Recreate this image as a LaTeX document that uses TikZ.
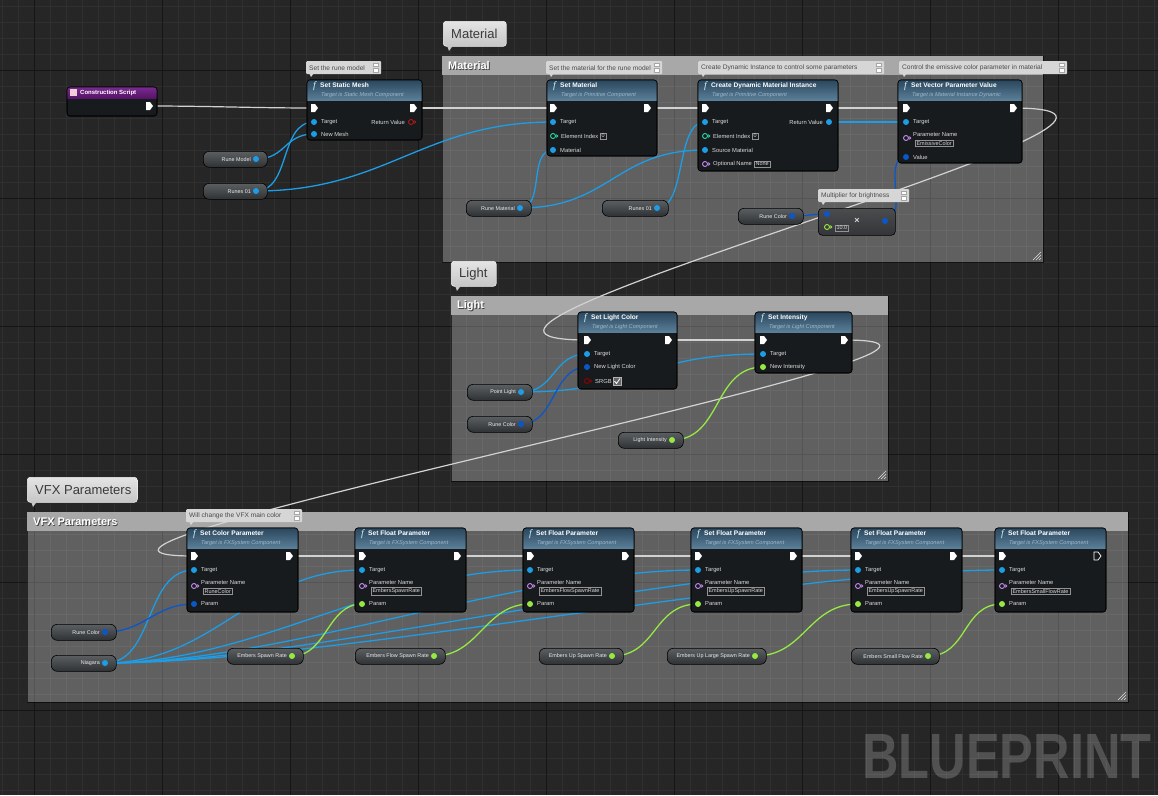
\documentclass[tikz,border=0pt]{standalone}
\usepackage{fontspec}
\setmainfont{Liberation Sans}
\newfontfamily\bpserif{Liberation Serif}
\usetikzlibrary{calc}
\definecolor{bg}{HTML}{262626}
\definecolor{gridminor}{HTML}{303030}
\definecolor{gridmajor}{HTML}{151515}
\definecolor{objpin}{HTML}{1C9DE6}
\definecolor{structpin}{HTML}{0B57C9}
\definecolor{floatpin}{HTML}{96E843}
\definecolor{namepin}{HTML}{C58BF0}
\definecolor{intpin}{HTML}{2ED6A0}
\definecolor{boolpin}{HTML}{8E0000}
\definecolor{retpin}{HTML}{B01818}
\definecolor{execw}{HTML}{D2D2D2}
\definecolor{nodebg}{HTML}{181B1D}
\definecolor{hdtop}{HTML}{2A465C}
\definecolor{hdbot}{HTML}{5A7F98}
\definecolor{subtxt}{HTML}{9DB8CC}
\definecolor{pinlabel}{HTML}{DADADA}
\definecolor{cmtbar}{HTML}{A8A8A8}
\definecolor{bubble}{HTML}{D6D6D6}
\definecolor{bubbletxt}{HTML}{4A4A4A}
\definecolor{bigtop}{HTML}{E4E4E4}
\definecolor{bigbot}{HTML}{C6C6C6}
\definecolor{bigtxtc}{HTML}{3A3A3A}
\definecolor{pilltop}{HTML}{5B5F62}
\definecolor{pillbot}{HTML}{2F3234}
\definecolor{purpletop}{HTML}{7A2A8E}
\definecolor{purplebot}{HTML}{561468}
\definecolor{multop}{HTML}{4A4C4E}
\definecolor{mulbot}{HTML}{333538}
\tikzset{
  execpin/.pic={\fill[white] (-3,-4) -- (1,-4) -- (4,0) -- (1,4) -- (-3,4) -- cycle;},
  execpinhollow/.pic={\draw[white, line width=0.7pt, line join=round] (-3,-4) -- (1,-4) -- (4,0) -- (1,4) -- (-3,4) -- cycle;},
  dotpin/.pic={\fill[#1] (0,0) circle (3pt);},
  hollowpin/.pic={\draw[#1, line width=0.9pt] (0,0) circle (2.5pt); \fill[#1] (3.3,-2) -- (5.3,0) -- (3.3,2) -- cycle;},
  fnbody/.style={anchor=north west, inner sep=0pt, outer sep=0pt, fill=nodebg, draw=black, line width=0.6pt, rounded corners=3pt},
  pinlbl/.style={anchor=west, inner sep=0pt, text=pinlabel, font=\fontsize{5.8}{6.5}\selectfont},
  valbox/.style={anchor=west, inner sep=1.3pt, draw=gray!85, line width=0.5pt, text=pinlabel, font=\fontsize{5.5}{6}\selectfont},
  fntitle/.style={anchor=west, inner sep=0pt, text=white, font=\fontsize{6.6}{7}\selectfont\bfseries},
  fnsub/.style={anchor=west, inner sep=0pt, text=subtxt, font=\fontsize{5.6}{6}\selectfont\itshape},
  fnsym/.style={anchor=center, inner sep=0pt, text=white!80!cyan, font=\bpserif\fontsize{10}{10}\selectfont\itshape},
  pill/.style={anchor=north west, minimum height=16pt, inner sep=0pt, rounded corners=6pt, top color=pilltop, bottom color=pillbot, draw=black, line width=0.6pt},
  pilltxt/.style={anchor=east, inner sep=0pt, text=white!92!black, font=\fontsize{5.4}{6}\selectfont},
  note/.style={anchor=north west, minimum height=13pt, inner sep=0pt, fill=bubble, rounded corners=1pt},
  notetxt/.style={anchor=west, inner sep=0pt, text=bubbletxt, font=\fontsize{6.6}{7}\selectfont},
  bigbub/.style={anchor=north west, minimum height=25pt, inner sep=0pt, rounded corners=3pt, top color=bigtop, bottom color=bigbot, draw=white!90!gray, line width=0.6pt},
  bigtxt/.style={anchor=west, inner sep=0pt, text=bigtxtc, font=\fontsize{13}{14}\selectfont},
  cmtbox/.style={anchor=north west, inner sep=0pt, fill=white, fill opacity=0.27, draw=black, draw opacity=0.6, line width=0.8pt},
  cmttitle/.style={anchor=west, inner sep=0pt, text=white, font=\fontsize{11}{12}\selectfont\bfseries},
  wire/.style={line width=1.3pt, line cap=round},
  objw/.style={wire, draw=objpin},
  strw/.style={wire, draw=structpin},
  fltw/.style={wire, draw=floatpin},
  exw/.style={wire, draw=execw, line width=1.2pt}
}
% function node: name, x, y, w, h, title, subtitle
\newcommand{\bpfn}[7]{%
  \node[fnbody, minimum width=#4pt, minimum height=#5pt] (#1) at (#2,#3) {};
  \begin{scope}
    \clip[rounded corners=3pt] (#2,#3) rectangle (#2+#4,#3+#5);
    \shade[top color=hdtop, bottom color=hdbot] (#2,#3) rectangle (#2+#4,#3+20);
  \end{scope}
  \draw[black, line width=0.6pt, rounded corners=3pt] (#2,#3) rectangle (#2+#4,#3+#5);
  \node[fnsym] (#1-f) at (#2+7.5,#3+6) {f};
  \node[fntitle] (#1-t) at (#2+13,#3+5.5) {#6};
  \node[fnsub] (#1-s) at (#2+14,#3+15) {#7};
}
\newcommand{\pinhol}[5]{\coordinate (#1) at (#2,#3); \pic at (#1) {hollowpin=#4}; \node[pinlbl] (#1-l) at (#2+8,#3) {#5};}
% parameter name pin with box: name, x, y, value
\newcommand{\pinpname}[4]{\coordinate (#1) at (#2,#3); \pic at (#1) {hollowpin=namepin};
  \node[pinlbl] (#1-l) at (#2+7,#3-3.5) {Parameter Name};
  \node[valbox] (#1-v) at (#2+9,#3+5.2) {#4};}
% pill variable: name, x, y, w, label, color
\newcommand{\bppill}[6]{%
  \node[pill, minimum width=#4pt] (#1) at (#2,#3) {};
  \coordinate (#1p) at (#2+#4-11,#3+8);
  \node[pilltxt] (#1-l) at (#2+#4-16,#3+8.3) {#5};
  \pic at (#1p) {dotpin=#6};
}
% small note: name, x, y, w, text
\newcommand{\bpnote}[5]{%
  \node[note, minimum width=#4pt] (#1) at (#2,#3) {};
  \fill[bubble] (#2+3,#3+12) -- (#2+8,#3+12) -- (#2+5,#3+16) -- cycle;
  \node[notetxt] (#1-l) at (#2+3,#3+6.8) {#5};
  \draw[gray!70, fill=white, line width=0.3pt] (#2+#4-8,#3+2) rectangle (#2+#4-3,#3+5.5);
  \draw[gray!70, fill=white, line width=0.3pt] (#2+#4-8,#3+7.5) rectangle (#2+#4-3,#3+11);
}
% big bubble: name, x, y, w, text
\newcommand{\bpbig}[5]{%
  \node[bigbub, minimum width=#4pt] (#1) at (#2,#3) {};
  \fill[bigbot] (#2+4,#3+24.5) -- (#2+10,#3+24.5) -- (#2+6,#3+30) -- cycle;
  \node[bigtxt] (#1-l) at (#2+8,#3+12.8) {#5};
}
% comment box: name, x, y, w, h, title
\newcommand{\bpcmt}[6]{%
  \node[cmtbox, minimum width=#4pt, minimum height=#5pt] (#1) at (#2,#3) {};
  \fill[cmtbar] (#2,#3) rectangle (#2+#4,#3+19);
  \node[cmttitle, text=black!75] (#1-sh) at (#2+6.8,#3+10.8) {#6};
  \node[cmttitle] (#1-l) at (#2+6,#3+10) {#6};
  \draw[white!75!gray, line width=0.6pt] (#2+#4-10,#3+#5-2) -- (#2+#4-2,#3+#5-10)
     (#2+#4-7,#3+#5-2) -- (#2+#4-2,#3+#5-7) (#2+#4-4,#3+#5-2) -- (#2+#4-2,#3+#5-4);
}
\begin{document}
\begin{tikzpicture}[x=1pt,y=-1pt]
\useasboundingbox (0,0) rectangle (1158,795);
\fill[bg] (0,0) rectangle (1158,795);
\foreach \i in {0,...,72} {\draw[gridminor, line width=0.8pt] ({2+16*\i},0) -- ({2+16*\i},795);}
\foreach \j in {0,...,49} {\draw[gridminor, line width=0.8pt] (0,{6+16*\j}) -- (1158,{6+16*\j});}
\foreach \i in {0,...,8} {\draw[gridmajor, line width=1pt] ({34+128*\i},0) -- ({34+128*\i},795);}
\foreach \j in {0,...,5} {\draw[gridmajor, line width=1pt] (0,{70+128*\j}) -- (1158,{70+128*\j});}

% watermark
\node[anchor=base west, inner sep=0pt, text=white, text opacity=0.2, font=\fontsize{64}{64}\selectfont\bfseries] (wm) at (862,778) {\scalebox{0.79}[1]{BLUEPRINT}};

% comment boxes
\bpcmt{cmat}{442}{56}{601}{206}{Material}
\bpcmt{clight}{451}{296}{437}{185}{Light}
\bpcmt{cvfx}{27}{512}{1101}{190}{VFX Parameters}
\bpbig{bmat}{443}{21}{63}{Material}
\bpbig{blight}{451}{261}{45}{Light}
\bpbig{bvfx}{27}{477}{110}{VFX Parameters}

% ---------- pin coordinates (declared before wires) ----------
\coordinate (csOut) at (149,106);
\coordinate (ssmIn) at (314,108); \coordinate (ssmOut) at (413,108);
\coordinate (ssmT) at (314,122); \coordinate (ssmM) at (314,134);
\coordinate (smIn) at (553,108); \coordinate (smOut) at (647,108);
\coordinate (smT) at (553,122); \coordinate (smM) at (553,150);
\coordinate (cdIn) at (705,108); \coordinate (cdOut) at (829,108);
\coordinate (cdT) at (705,122); \coordinate (cdS) at (705,150); \coordinate (cdR) at (829,122);
\coordinate (svIn) at (906,108); \coordinate (svOut) at (1013,108);
\coordinate (svT) at (906,122); \coordinate (svV) at (906,157);
\coordinate (mulA) at (827,214); \coordinate (mulOut) at (885,221);
\coordinate (slcIn) at (587,340); \coordinate (slcOut) at (668,340);
\coordinate (slcT) at (587,354); \coordinate (slcC) at (587,367);
\coordinate (siIn) at (763,340); \coordinate (siOut) at (844,340);
\coordinate (siT) at (763,354); \coordinate (siI) at (763,367);
\coordinate (n1In) at (194,556); \coordinate (n1Out) at (289,556); \coordinate (n1T) at (194,570); \coordinate (n1P) at (194,604);
\coordinate (n2In) at (362,556); \coordinate (n2Out) at (457,556); \coordinate (n2T) at (362,570); \coordinate (n2P) at (362,604);
\coordinate (n3In) at (530,556); \coordinate (n3Out) at (625,556); \coordinate (n3T) at (530,570); \coordinate (n3P) at (530,604);
\coordinate (n4In) at (698,556); \coordinate (n4Out) at (793,556); \coordinate (n4T) at (698,570); \coordinate (n4P) at (698,604);
\coordinate (n5In) at (858,556); \coordinate (n5Out) at (953,556); \coordinate (n5T) at (858,570); \coordinate (n5P) at (858,604);
\coordinate (n6In) at (1002,556); \coordinate (n6T) at (1002,570); \coordinate (n6P) at (1002,604);
\coordinate (rmodelp) at (256,159); \coordinate (runesAp) at (256,191);
\coordinate (rmatp) at (520,208); \coordinate (runesBp) at (657,208); \coordinate (rcolAp) at (792,216);
\coordinate (plightp) at (521,392); \coordinate (rcolBp) at (521,424); \coordinate (lintp) at (672,440);
\coordinate (rcolCp) at (105,632); \coordinate (niagp) at (105,663);
\coordinate (esrp) at (292,656); \coordinate (efsrp) at (434,656); \coordinate (eusrp) at (612,656);
\coordinate (eulsrp) at (755,656); \coordinate (esfrp) at (928,656);

% ---------- wires ----------
\draw[exw] (csOut) .. controls +(60,0) and +(-60,0) .. (ssmIn);
\draw[exw] (ssmOut) -- (smIn);
\draw[exw] (smOut) -- (cdIn);
\draw[exw] (cdOut) -- (svIn);
\draw[exw] (svOut) .. controls +(250,0) and +(-250,0) .. (slcIn);
\draw[exw] (slcOut) -- (siIn);
\draw[exw] (siOut) .. controls +(250,0) and +(-250,0) .. (n1In);
\draw[exw] (n1Out) -- (n2In);
\draw[exw] (n2Out) -- (n3In);
\draw[exw] (n3Out) -- (n4In);
\draw[exw] (n4Out) -- (n5In);
\draw[exw] (n5Out) -- (n6In);

\draw[objw] (rmodelp) .. controls +(30,0) and +(-30,0) .. (ssmM);
\draw[objw] (runesAp) .. controls +(35,0) and +(-35,0) .. (ssmT);
\draw[objw] (runesAp) .. controls +(130,0) and +(-130,0) .. (smT);
\draw[objw] (rmatp) .. controls +(25,0) and +(-25,0) .. (smM);
\draw[objw] (rmatp) .. controls +(90,0) and +(-90,0) .. (cdS);
\draw[objw] (runesBp) .. controls +(30,0) and +(-30,0) .. (cdT);
\draw[objw] (cdR) -- (svT);
\draw[strw] (rcolAp) .. controls +(15,0) and +(-15,0) .. (mulA);
\draw[strw] (mulOut) .. controls +(25,0) and +(-25,0) .. (svV);

\draw[objw] (plightp) .. controls +(35,0) and +(-35,0) .. (slcT);
\draw[objw] (plightp) .. controls +(120,0) and +(-120,0) .. (siT);
\draw[strw] (rcolBp) .. controls +(35,0) and +(-35,0) .. (slcC);
\draw[fltw] (lintp) .. controls +(50,0) and +(-50,0) .. (siI);

\draw[objw] (niagp) .. controls +(50,0) and +(-50,0) .. (n1T);
\draw[objw] (niagp) .. controls +(110,0) and +(-110,0) .. (n2T);
\draw[objw] (niagp) .. controls +(150,0) and +(-150,0) .. (n3T);
\draw[objw] (niagp) .. controls +(180,0) and +(-180,0) .. (n4T);
\draw[objw] (niagp) .. controls +(200,0) and +(-200,0) .. (n5T);
\draw[objw] (niagp) .. controls +(220,0) and +(-220,0) .. (n6T);
\draw[strw] (rcolCp) .. controls +(40,0) and +(-40,0) .. (n1P);
\draw[fltw] (esrp) .. controls +(35,0) and +(-35,0) .. (n2P);
\draw[fltw] (efsrp) .. controls +(45,0) and +(-45,0) .. (n3P);
\draw[fltw] (eusrp) .. controls +(45,0) and +(-45,0) .. (n4P);
\draw[fltw] (eulsrp) .. controls +(50,0) and +(-50,0) .. (n5P);
\draw[fltw] (esfrp) .. controls +(40,0) and +(-40,0) .. (n6P);

% ---------- Construction Script ----------
\node[fnbody, minimum width=90pt, minimum height=29pt] (cs) at (67,87) {};
\begin{scope}
  \clip[rounded corners=3pt] (67,87) rectangle (157,116);
  \shade[top color=purpletop, bottom color=purplebot] (67,87) rectangle (157,98);
\end{scope}
\draw[black, line width=0.6pt, rounded corners=3pt] (67,87) rectangle (157,116);
\fill[white!80!purple] (70,89) rectangle (77,96);
\node[fntitle, font=\fontsize{6}{7}\selectfont\bfseries] (cs-t) at (80,92.5) {Construction Script};
\pic at (csOut) {execpin};

% ---------- Set Static Mesh ----------
\bpnote{nssm}{306}{61}{75}{Set the rune model}
\bpfn{ssm}{307}{80}{115}{60}{Set Static Mesh}{Target is Static Mesh Component}
\pic at (ssmIn) {execpin}; \pic at (ssmOut) {execpin};
\pic at (ssmT) {dotpin=objpin}; \node[pinlbl] (ssmT-l) at (321,122) {Target};
\pic at (ssmM) {dotpin=objpin}; \node[pinlbl] (ssmM-l) at (321,134) {New Mesh};
\pinhol{ssmR}{411}{122}{retpin}{}
\node[pinlbl, anchor=east] (ssmR-t) at (405,122) {Return Value};
\bppill{rmodel}{203}{151}{64}{Rune Model}{objpin}
\bppill{runesA}{203}{183}{64}{Runes 01}{objpin}

% ---------- Material ----------
\bpnote{nsm}{546}{61}{116}{Set the material for the rune model}
\bpfn{sm}{547}{80}{110}{76}{Set Material}{Target is Primitive Component}
\pic at (smIn) {execpin}; \pic at (smOut) {execpin};
\pic at (smT) {dotpin=objpin}; \node[pinlbl] (smT-l) at (560,122) {Target};
\pinhol{smI}{553}{136}{intpin}{Element Index}
\node[valbox] (smI-v) at (600,136) {0};
\pic at (smM) {dotpin=objpin}; \node[pinlbl] (smM-l) at (560,150) {Material};

\bpnote{ncd}{698}{61}{186}{Create Dynamic Instance to control some parameters}
\bpfn{cd}{698}{80}{140}{91}{Create Dynamic Material Instance}{Target is Primitive Component}
\pic at (cdIn) {execpin}; \pic at (cdOut) {execpin};
\pic at (cdT) {dotpin=objpin}; \node[pinlbl] (cdT-l) at (712,122) {Target};
\pinhol{cdI}{705}{136}{intpin}{Element Index}
\node[valbox] (cdI-v) at (752,136) {0};
\pic at (cdS) {dotpin=objpin}; \node[pinlbl] (cdS-l) at (712,150) {Source Material};
\pinhol{cdO}{705}{164}{namepin}{Optional Name}
\node[valbox] (cdO-v) at (754,164) {None};
\pic at (cdR) {dotpin=objpin}; \node[pinlbl, anchor=east] (cdR-l) at (823,122) {Return Value};

\bpnote{nsv}{899}{61}{168}{Control the emissive color parameter in material}
\bpfn{sv}{898}{80}{124}{83}{Set Vector Parameter Value}{Target is Material Instance Dynamic}
\pic at (svIn) {execpin}; \pic at (svOut) {execpin};
\pic at (svT) {dotpin=objpin}; \node[pinlbl] (svT-l) at (913,122) {Target};
\pinpname{svPN}{906}{138}{EmissiveColor}
\pic at (svV) {dotpin=structpin}; \node[pinlbl] (svV-l) at (913,157) {Value};

\bppill{rmat}{466}{200}{65}{Rune Material}{objpin}
\bppill{runesB}{602}{200}{66}{Runes 01}{objpin}
\bppill{rcolA}{738}{208}{65}{Rune Color}{structpin}

\bpnote{nmul}{818}{189}{91}{Multiplier for brightness}
\node[anchor=north west, minimum width=77pt, minimum height=27pt, inner sep=0pt, rounded corners=4pt, top color=multop, bottom color=mulbot, draw=black, line width=0.6pt] (mul) at (818,208) {};
\pic at (mulA) {dotpin=structpin};
\coordinate (mulB) at (827,227); \pic at (mulB) {hollowpin=floatpin};
\node[valbox] (mulB-v) at (835,228) {10.0};
\node[inner sep=0pt, text=pinlabel, font=\fontsize{9}{9}\selectfont\bfseries] (mulX) at (857,221) {×};
\pic at (mulOut) {dotpin=structpin};

% ---------- Light ----------
\bpfn{slc}{578}{312}{99}{77}{Set Light Color}{Target is Light Component}
\pic at (slcIn) {execpin}; \pic at (slcOut) {execpin};
\pic at (slcT) {dotpin=objpin}; \node[pinlbl] (slcT-l) at (594,354) {Target};
\pic at (slcC) {dotpin=structpin}; \node[pinlbl] (slcC-l) at (594,367) {New Light Color};
\pinhol{slcS}{587}{381}{boolpin}{SRGB}
\draw[gray!60!white, line width=0.5pt, fill=black!60] (613,377) rectangle (621,385);
\draw[white, line width=0.8pt] (614.5,381) -- (616.5,383.5) -- (620,378.5);

\bpfn{si}{755}{312}{97}{61}{Set Intensity}{Target is Light Component}
\pic at (siIn) {execpin}; \pic at (siOut) {execpin};
\pic at (siT) {dotpin=objpin}; \node[pinlbl] (siT-l) at (770,354) {Target};
\pic at (siI) {dotpin=floatpin}; \node[pinlbl] (siI-l) at (770,367) {New Intensity};

\bppill{plight}{467}{384}{65}{Point Light}{objpin}
\bppill{rcolB}{467}{416}{65}{Rune Color}{structpin}
\bppill{lint}{618}{432}{65}{Light Intensity}{floatpin}

% ---------- VFX ----------
\bpnote{nn1}{186}{509}{116}{Will change the VFX main color}
\bpfn{n1}{187}{528}{111}{84}{Set Color Parameter}{Target is FXSystem Component}
\pic at (n1In) {execpin}; \pic at (n1Out) {execpin};
\pic at (n1T) {dotpin=objpin}; \node[pinlbl] (n1T-l) at (201,570) {Target};
\pinpname{n1PN}{194}{586}{RuneColor}
\pic at (n1P) {dotpin=structpin}; \node[pinlbl] (n1P-l) at (201,604) {Param};

\bpfn{n2}{355}{528}{111}{84}{Set Float Parameter}{Target is FXSystem Component}
\pic at (n2In) {execpin}; \pic at (n2Out) {execpin};
\pic at (n2T) {dotpin=objpin}; \node[pinlbl] (n2T-l) at (369,570) {Target};
\pinpname{n2PN}{362}{586}{EmbersSpawnRate}
\pic at (n2P) {dotpin=floatpin}; \node[pinlbl] (n2P-l) at (369,604) {Param};

\bpfn{n3}{523}{528}{111}{84}{Set Float Parameter}{Target is FXSystem Component}
\pic at (n3In) {execpin}; \pic at (n3Out) {execpin};
\pic at (n3T) {dotpin=objpin}; \node[pinlbl] (n3T-l) at (537,570) {Target};
\pinpname{n3PN}{530}{586}{EmbersFlowSpawnRate}
\pic at (n3P) {dotpin=floatpin}; \node[pinlbl] (n3P-l) at (537,604) {Param};

\bpfn{n4}{691}{528}{111}{84}{Set Float Parameter}{Target is FXSystem Component}
\pic at (n4In) {execpin}; \pic at (n4Out) {execpin};
\pic at (n4T) {dotpin=objpin}; \node[pinlbl] (n4T-l) at (705,570) {Target};
\pinpname{n4PN}{698}{586}{EmbersUpSpawnRate}
\pic at (n4P) {dotpin=floatpin}; \node[pinlbl] (n4P-l) at (705,604) {Param};

\bpfn{n5}{851}{528}{111}{84}{Set Float Parameter}{Target is FXSystem Component}
\pic at (n5In) {execpin}; \pic at (n5Out) {execpin};
\pic at (n5T) {dotpin=objpin}; \node[pinlbl] (n5T-l) at (865,570) {Target};
\pinpname{n5PN}{858}{586}{EmbersUpSpawnRate}
\pic at (n5P) {dotpin=floatpin}; \node[pinlbl] (n5P-l) at (865,604) {Param};

\bpfn{n6}{995}{528}{111}{84}{Set Float Parameter}{Target is FXSystem Component}
\pic at (n6In) {execpin};
\coordinate (n6Out) at (1097,556); \pic at (n6Out) {execpinhollow};
\pic at (n6T) {dotpin=objpin}; \node[pinlbl] (n6T-l) at (1009,570) {Target};
\pinpname{n6PN}{1002}{586}{EmbersSmallFlowRate}
\pic at (n6P) {dotpin=floatpin}; \node[pinlbl] (n6P-l) at (1009,604) {Param};

\bppill{rcolC}{51}{624}{65}{Rune Color}{structpin}
\bppill{niag}{51}{655}{65}{Niagara}{objpin}
\bppill{esr}{227}{648}{76}{Embers Spawn Rate}{floatpin}
\bppill{efsr}{355}{648}{90}{Embers Flow Spawn Rate}{floatpin}
\bppill{eusr}{539}{648}{84}{Embers Up Spawn Rate}{floatpin}
\bppill{eulsr}{667}{648}{99}{Embers Up Large Spawn Rate}{floatpin}
\bppill{esfr}{851}{648}{88}{Embers Small Flow Rate}{floatpin}
\end{tikzpicture}
\end{document}
